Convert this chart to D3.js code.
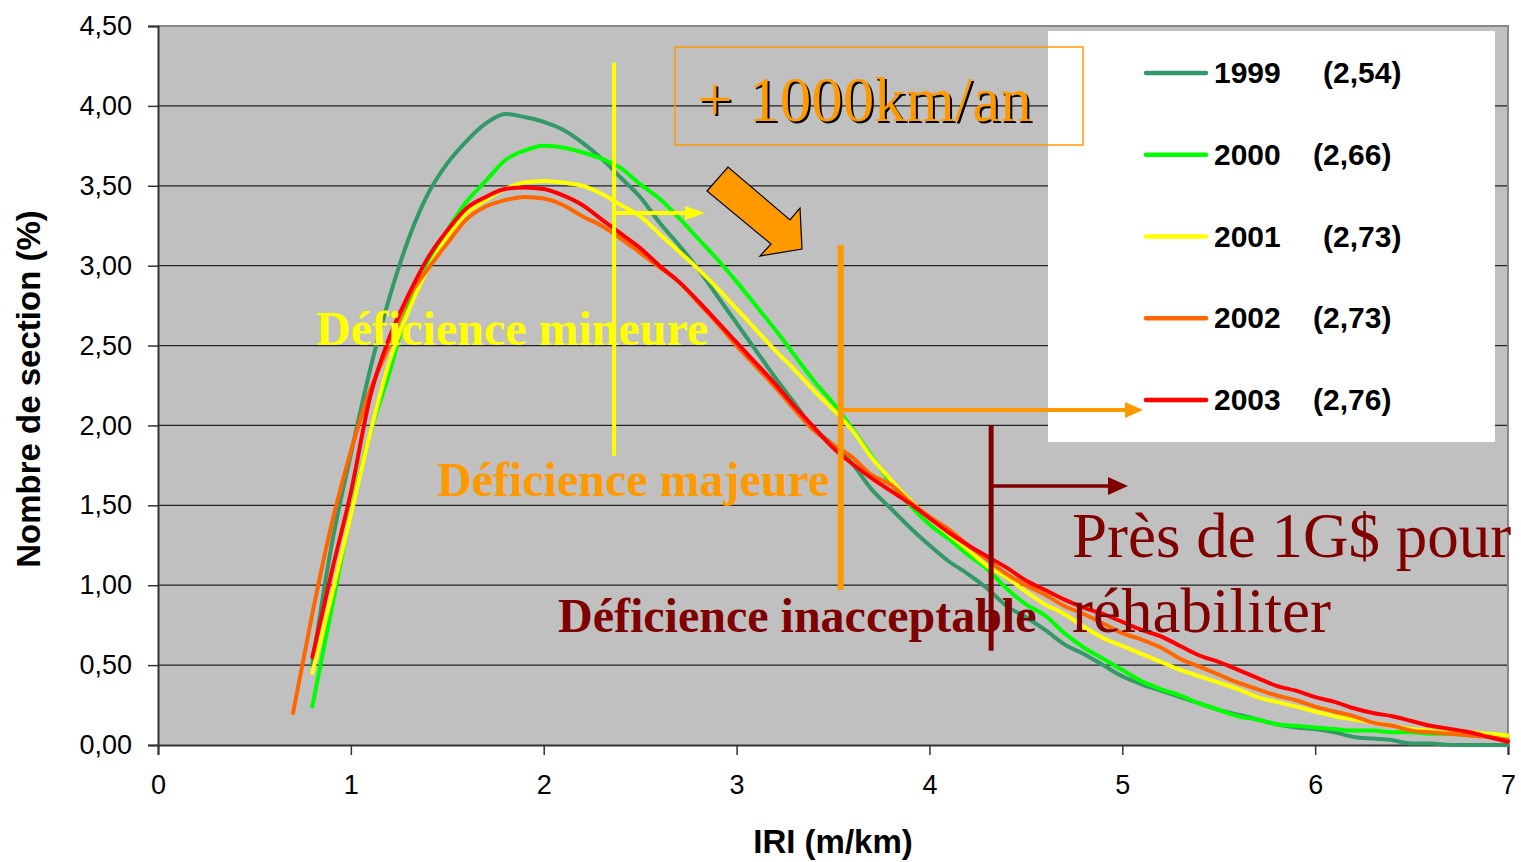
<!DOCTYPE html>
<html>
<head>
<meta charset="utf-8">
<script src="https://cdn.jsdelivr.net/npm/d3@7"></script>
<style>
  body { margin: 0; background: #ffffff; }
  svg { display: block; }
</style>
</head>
<body>
<div id="chart"></div>
<script>
// IRI values (m/km) shared by every year
var iri = [0.7, 0.8, 0.9, 1.0, 1.1, 1.2, 1.3, 1.4, 1.5, 1.6, 1.7, 1.8, 1.9, 2.0, 2.1, 2.2, 2.3, 2.4, 2.5, 2.6,
           2.7, 2.8, 2.9, 3.0, 3.1, 3.2, 3.3, 3.4, 3.5, 3.6, 3.7, 3.8, 3.9, 4.0, 4.1, 4.2, 4.3, 4.4, 4.5, 4.6,
           4.7, 4.8, 4.9, 5.0, 5.1, 5.2, 5.3, 5.4, 5.5, 5.6, 5.7, 5.8, 5.9, 6.0, 6.1, 6.2, 6.3, 6.4, 6.5, 6.6,
           6.7, 6.8, 6.9, 7.0];

// Nombre de section (%) per year
var s1999 = [null, 0.50, 1.25, 1.82, 2.35, 2.80, 3.17, 3.45, 3.64, 3.78, 3.89, 3.95, 3.93, 3.90, 3.85, 3.77, 3.67, 3.55, 3.43, 3.27,
             3.13, 2.98, 2.81, 2.64, 2.47, 2.30, 2.14, 1.98, 1.88, 1.76, 1.60, 1.48, 1.36, 1.25, 1.15, 1.07, 0.98, 0.87, 0.80, 0.72,
             0.63, 0.57, 0.50, 0.43, 0.38, 0.34, 0.30, 0.26, 0.22, 0.19, 0.16, 0.13, 0.11, 0.10, 0.08, 0.05, 0.04, 0.03, 0.01, 0.01,
             0.00, 0.00, 0.00, 0.00];
var s2000 = [null, 0.24, 0.85, 1.45, 1.95, 2.33, 2.75, 3.00, 3.22, 3.40, 3.53, 3.66, 3.72, 3.75, 3.74, 3.71, 3.67, 3.61, 3.51, 3.42,
             3.30, 3.17, 3.04, 2.90, 2.75, 2.60, 2.44, 2.28, 2.14, 1.98, 1.81, 1.64, 1.50, 1.38, 1.29, 1.19, 1.10, 0.98, 0.88, 0.81,
             0.70, 0.61, 0.54, 0.47, 0.40, 0.35, 0.31, 0.26, 0.22, 0.18, 0.16, 0.13, 0.12, 0.11, 0.10, 0.09, 0.09, 0.08, 0.08, 0.07,
             0.07, 0.06, 0.06, 0.06];
var s2001 = [null, 0.45, 0.93, 1.44, 1.95, 2.40, 2.72, 2.98, 3.18, 3.33, 3.41, 3.48, 3.52, 3.53, 3.52, 3.50, 3.45, 3.38, 3.31, 3.20,
             3.09, 2.98, 2.86, 2.73, 2.60, 2.47, 2.35, 2.22, 2.10, 1.97, 1.80, 1.66, 1.53, 1.42, 1.32, 1.22, 1.12, 1.05, 0.96, 0.88,
             0.82, 0.74, 0.67, 0.62, 0.57, 0.52, 0.47, 0.43, 0.39, 0.35, 0.30, 0.27, 0.24, 0.21, 0.18, 0.16, 0.14, 0.12, 0.10, 0.09,
             0.08, 0.08, 0.07, 0.06];
var s2002 = [0.20, 0.82, 1.38, 1.84, 2.22, 2.50, 2.80, 2.98, 3.14, 3.29, 3.37, 3.41, 3.43, 3.42, 3.38, 3.31, 3.25, 3.17, 3.08, 2.99,
             2.90, 2.77, 2.64, 2.50, 2.37, 2.24, 2.10, 1.97, 1.88, 1.80, 1.69, 1.63, 1.52, 1.43, 1.35, 1.25, 1.16, 1.07, 1.00, 0.94,
             0.87, 0.82, 0.76, 0.70, 0.66, 0.61, 0.54, 0.49, 0.44, 0.39, 0.35, 0.31, 0.28, 0.24, 0.21, 0.18, 0.14, 0.12, 0.09, 0.08,
             0.07, 0.06, 0.05, 0.03];
var s2003 = [null, 0.55, 1.08, 1.58, 2.18, 2.55, 2.82, 3.05, 3.22, 3.36, 3.43, 3.48, 3.49, 3.48, 3.44, 3.38, 3.29, 3.20, 3.11, 3.00,
             2.90, 2.78, 2.65, 2.52, 2.39, 2.26, 2.12, 1.99, 1.86, 1.76, 1.67, 1.59, 1.51, 1.42, 1.33, 1.25, 1.18, 1.11, 1.03, 0.97,
             0.91, 0.86, 0.82, 0.77, 0.72, 0.68, 0.62, 0.56, 0.52, 0.47, 0.42, 0.37, 0.34, 0.30, 0.27, 0.23, 0.20, 0.18, 0.15, 0.12,
             0.10, 0.08, 0.05, 0.02];

var years = ["1999", "2000", "2001", "2002", "2003"];
var means = ["(2,54)", "(2,66)", "(2,73)", "(2,73)", "(2,76)"];
var colors = ["#339966", "#00ff00", "#ffff00", "#ff6600", "#ff0000"];

var xTicks = [0, 1, 2, 3, 4, 5, 6, 7];
var yTicks = [0, 0.5, 1, 1.5, 2, 2.5, 3, 3.5, 4, 4.5];

// ---------------------------------------------------------------
var width = 1521, height = 862;
var sans = "'Liberation Sans', Arial, sans-serif";
var serif = "'Liberation Serif', 'Times New Roman', serif";

var svg = d3.select("#chart").append("svg")
    .attr("width", width)
    .attr("height", height);

var x = d3.scaleLinear().domain([0, 7]).range([158, 1508]);
var y = d3.scaleLinear().domain([0, 4.5]).range([745, 26]);

var comma = function (d) { return d.toFixed(2).replace(".", ","); };

// plot area
svg.append("rect")
    .attr("x", x(0)).attr("y", y(4.5))
    .attr("width", x(7) - x(0)).attr("height", y(0) - y(4.5))
    .attr("fill", "#c0c0c0");

// horizontal gridlines
svg.append("g").selectAll("line")
    .data(yTicks.filter(function (d) { return d > 0 && d < 4.5; }))
    .enter().append("line")
    .attr("x1", x(0)).attr("x2", x(7))
    .attr("y1", function (d) { return y(d); })
    .attr("y2", function (d) { return y(d); })
    .attr("stroke", "#222")
    .attr("stroke-width", 1.3);

// top and right frame
svg.append("path")
    .attr("d", "M" + x(0) + "," + y(4.5) + "H" + x(7) + "V" + y(0))
    .attr("fill", "none")
    .attr("stroke", "#888")
    .attr("stroke-width", 2);

// axes
var yAxis = svg.append("g")
    .attr("transform", "translate(" + x(0) + ",0)")
    .call(d3.axisLeft(y).tickValues(yTicks).tickFormat(comma).tickSize(10).tickPadding(16));
var xAxis = svg.append("g")
    .attr("transform", "translate(0," + y(0) + ")")
    .call(d3.axisBottom(x).tickValues(xTicks).tickFormat(d3.format("d")).tickSize(10).tickPadding(20));

[yAxis, xAxis].forEach(function (ax) {
    ax.select(".domain").attr("stroke", "#333").attr("stroke-width", 2);
    ax.selectAll(".tick line").attr("stroke", "#333").attr("stroke-width", 1.5);
    ax.selectAll("text")
        .attr("fill", "#000")
        .style("font-family", sans)
        .style("font-size", "27px");
});

// axis titles
svg.append("text")
    .attr("transform", "translate(40,389) rotate(-90)")
    .attr("text-anchor", "middle")
    .style("font-family", sans)
    .style("font-size", "33px")
    .style("font-weight", "bold")
    .text("Nombre de section (%)");

svg.append("text")
    .attr("x", 833).attr("y", 853)
    .attr("text-anchor", "middle")
    .style("font-family", sans)
    .style("font-size", "33px")
    .style("font-weight", "bold")
    .text("IRI (m/km)");

// curves
var series = [s1999, s2000, s2001, s2002, s2003];
var line = d3.line()
    .defined(function (d) { return d[1] !== null; })
    .x(function (d) { return x(d[0]); })
    .y(function (d) { return y(d[1]); })
    .curve(d3.curveMonotoneX);

svg.append("g").selectAll("path")
    .data(series)
    .enter().append("path")
    .attr("d", function (s) { return line(iri.map(function (v, i) { return [v, s[i]]; })); })
    .attr("fill", "none")
    .attr("stroke", function (s, i) { return colors[i]; })
    .attr("stroke-width", 4)
    .attr("stroke-linecap", "round")
    .attr("stroke-linejoin", "round");

// legend
var legend = svg.append("g");
legend.append("rect")
    .attr("x", 1048).attr("y", 31)
    .attr("width", 447).attr("height", 411)
    .attr("fill", "#fff");

var rows = legend.selectAll("g.row")
    .data(years)
    .enter().append("g")
    .attr("class", "row")
    .attr("transform", function (d, i) { return "translate(0," + (73 + i * 81.75) + ")"; });

rows.append("line")
    .attr("x1", 1146).attr("x2", 1206)
    .attr("stroke", function (d, i) { return colors[i]; })
    .attr("stroke-width", 4.5)
    .attr("stroke-linecap", "round");

rows.append("text")
    .attr("x", 1214).attr("y", 10)
    .style("font-family", sans)
    .style("font-size", "30px")
    .style("font-weight", "bold")
    .text(function (d) { return d; });

rows.append("text")
    .attr("x", function (d, i) { return (i === 1 || i === 3 || i === 4) ? 1313 : 1323; })
    .attr("y", 10)
    .style("font-family", sans)
    .style("font-size", "30px")
    .style("font-weight", "bold")
    .text(function (d, i) { return means[i]; });

// annotations: threshold markers with arrows
var ann = svg.append("g");

function arrow(x1, x2, yy, color, w, headLen, headHalf) {
    ann.append("line")
        .attr("x1", x1).attr("x2", x2 - headLen + 2)
        .attr("y1", yy).attr("y2", yy)
        .attr("stroke", color).attr("stroke-width", w);
    ann.append("path")
        .attr("d", "M" + x2 + "," + yy + "L" + (x2 - headLen) + "," + (yy - headHalf) +
                   "L" + (x2 - headLen) + "," + (yy + headHalf) + "Z")
        .attr("fill", color);
}

function vline(xv, y0, y1, color, w) {
    ann.append("line")
        .attr("x1", x(xv)).attr("x2", x(xv))
        .attr("y1", y(y0)).attr("y2", y(y1))
        .attr("stroke", color).attr("stroke-width", w);
}

// texts of the zones
function label(tx, ty, str, color, size, weight) {
    return ann.append("text")
        .attr("x", tx).attr("y", ty)
        .attr("fill", color)
        .style("font-family", serif)
        .style("font-size", size + "px")
        .style("font-weight", weight)
        .text(str);
}

label(316, 345, "Déficience mineure", "#ffff00", 48, "bold");
label(437, 496, "Déficience majeure", "#ff9900", 48, "bold");
label(558, 632, "Déficience inacceptable", "#800000", 48, "bold");
label(1072, 557, "Près de 1G$ pour", "#800000", 63, "normal");
label(1072, 632, "réhabiliter", "#800000", 63, "normal");

// mineure
vline(2.365, 1.81, 4.27, "#ffff00", 4);
arrow(x(2.365), 705, 213, "#ffff00", 4, 20, 7);
// majeure
vline(3.54, 0.97, 3.13, "#ff9900", 6);
arrow(x(3.54), 1143, 410, "#ff9900", 4, 18, 8);
// inacceptable
vline(4.32, 0.59, 2.0, "#800000", 5);
arrow(x(4.32), 1128, 486, "#800000", 3.5, 20, 9);

// +1000 km/an box
ann.append("rect")
    .attr("x", 675).attr("y", 47)
    .attr("width", 408).attr("height", 98)
    .attr("fill", "none")
    .attr("stroke", "#ff9900")
    .attr("stroke-width", 1.5);
label(699, 123, "+ 1000km/an", "#000", 63, "normal");
label(697, 121, "+ 1000km/an", "#ff9900", 63, "normal");

// thick block arrow
ann.append("polygon")
    .attr("points", "707,191 728,167 790,220 800,208 802,249 760,256 771,244")
    .attr("fill", "#ff9900")
    .attr("stroke", "#000")
    .attr("stroke-width", 1.2);
</script>
</body>
</html>
